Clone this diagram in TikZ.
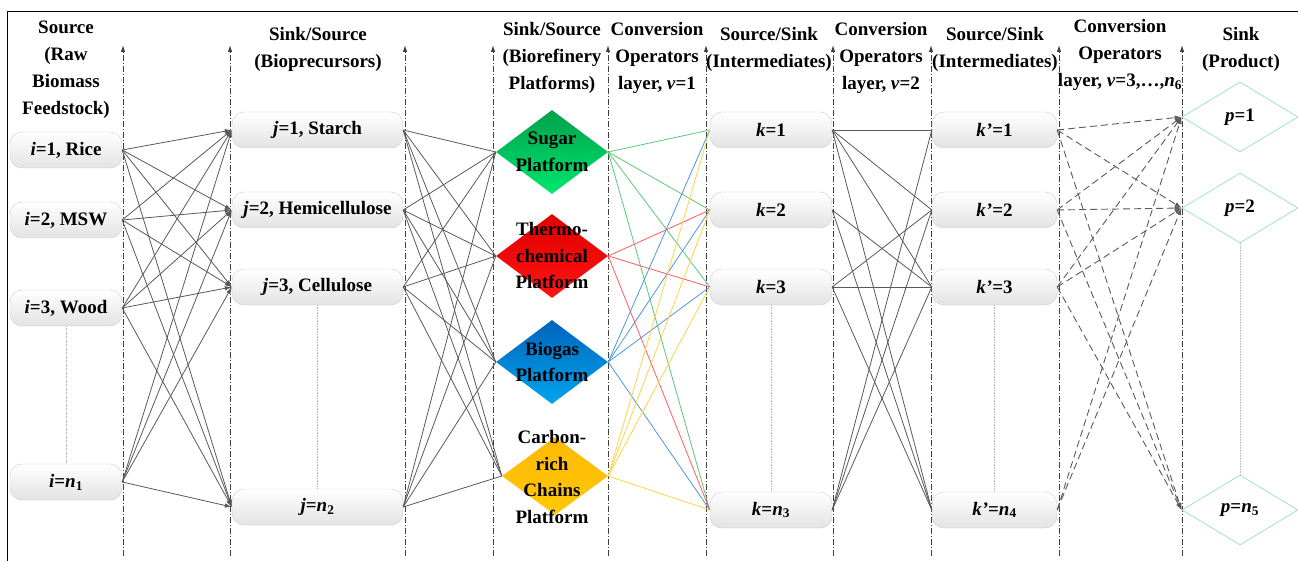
\documentclass[tikz,border=0pt]{standalone}
\usepackage{fontspec}
\setmainfont{Liberation Serif}
\usetikzlibrary{shapes.geometric,arrows.meta}
\definecolor{sugA}{RGB}{0,160,75}
\definecolor{sugB}{RGB}{0,230,110}
\definecolor{thmA}{RGB}{225,0,0}
\definecolor{thmB}{RGB}{255,20,20}
\definecolor{bioA}{RGB}{0,100,190}
\definecolor{bioB}{RGB}{0,165,235}
\definecolor{crbA}{RGB}{255,185,0}
\definecolor{crbB}{RGB}{255,200,10}
\definecolor{mintc}{RGB}{160,228,200}
\definecolor{lgreen}{RGB}{90,200,120}
\definecolor{lred}{RGB}{255,90,90}
\definecolor{lblue}{RGB}{80,150,220}
\definecolor{lyellow}{RGB}{255,210,70}
\begin{document}
\begin{tikzpicture}[x=1pt,y=-1pt,
  hdr/.style={font=\bfseries\fontsize{19}{27}\selectfont, align=center, inner sep=0pt},
  rbox/.style={rounded corners=12pt, draw=gray!40, top color=white, bottom color=gray!22,
    minimum height=36pt, inner sep=0pt, font=\bfseries\fontsize{19}{22}\selectfont},
  plat/.style={diamond, inner sep=0pt, minimum width=112pt, minimum height=84pt},
  ptext/.style={font=\bfseries\fontsize{19}{26.5}\selectfont, align=center, inner sep=0pt},
  prod/.style={diamond, draw=mintc, fill=white, inner sep=0pt, minimum width=116pt,
    minimum height=70pt, line width=0.8pt},
  vaxis/.style={draw=black!75, line width=0.9pt, dash pattern=on 6pt off 2pt on 1pt off 2pt,
    -{Latex[length=7pt,width=4.5pt]}},
  link/.style={draw=black!65, line width=0.8pt},
  alink/.style={link, -{Latex[length=7pt,width=4.5pt]}},
  clink/.style={line width=0.8pt},
  dlink/.style={draw=black!65, line width=0.9pt, dash pattern=on 7pt off 4pt,
    -{Latex[length=7pt,width=4.5pt]}},
  vdot/.style={draw=gray!55, line width=0.6pt, densely dotted}]
\useasboundingbox (0,0) rectangle (1298,561);
% frame
\draw[line width=1pt] (7,561) -- (7,12) -- (1298,12);
% axes
\foreach \x in {123,230,405,493,608,706,833,931,1059,1182}
  \draw[vaxis] (\x,556) -- (\x,45);
% headers
\node[hdr] (h1) at (66,70) {Source\\(Raw\\Biomass\\Feedstock)};
\node[hdr] (h2) at (318,49) {Sink/Source\\(Bioprecursors)};
\node[hdr] (h3) at (552,58) {Sink/Source\\(Biorefinery\\Platforms)};
\node[hdr] (h4) at (657,58) {Conversion\\Operators\\layer, \textit{v}=1};
\node[hdr] (h5) at (769,49) {Source/Sink\\(Intermediates)};
\node[hdr] (h6) at (881,58) {Conversion\\Operators\\layer, \textit{v}=2};
\node[hdr] (h7) at (995,49) {Source/Sink\\(Intermediates)};
\node[hdr] (h8) at (1120,55) {Conversion\\Operators\\layer, \textit{v}=3,…,\textit{n}\textsubscript{6}};
\node[hdr] (h9) at (1241,49) {Sink\\(Product)};
% sources
\node[rbox, minimum width=112pt] (i1) at (66,150) {\textit{i}=1, Rice};
\node[rbox, minimum width=112pt] (i2) at (66,220) {\textit{i}=2, MSW};
\node[rbox, minimum width=112pt] (i3) at (66,308) {\textit{i}=3, Wood};
\node[rbox, minimum width=112pt] (in) at (66,482) {\textit{i}=\textit{n}\textsubscript{1}};
% bioprecursors
\node[rbox, minimum width=171pt] (j1) at (317.5,130) {\textit{j}=1, Starch};
\node[rbox, minimum width=171pt] (j2) at (317.5,210) {\textit{j}=2, Hemicellulose};
\node[rbox, minimum width=171pt] (j3) at (317.5,287) {\textit{j}=3, Cellulose};
\node[rbox, minimum width=171pt] (jn) at (317.5,507) {\textit{j}=\textit{n}\textsubscript{2}};
% platforms
\node[plat, top color=sugA, bottom color=sugB] (sug) at (552,152) {};
\node[plat, top color=thmA, bottom color=thmB] (thm) at (552,256) {};
\node[plat, top color=bioA, bottom color=bioB] (bio) at (552,362) {};
\node[plat, top color=crbA, bottom color=crbB, minimum width=106pt, minimum height=78pt] (crb) at (555,476) {};
\node[ptext] (tsug) at (sug.center) {Sugar\\Platform};
\node[ptext] (tthm) at (thm.center) {Thermo-\\chemical\\Platform};
\node[ptext] (tbio) at (bio.center) {Biogas\\Platform};
\node[ptext] (tcrb) at (552,477) {Carbon-\\rich\\Chains\\Platform};
% intermediates k
\node[rbox, minimum width=122pt] (k1) at (771,130) {\textit{k}=1};
\node[rbox, minimum width=122pt] (k2) at (771,210) {\textit{k}=2};
\node[rbox, minimum width=122pt] (k3) at (771,287) {\textit{k}=3};
\node[rbox, minimum width=122pt] (kn) at (771,510) {\textit{k}=\textit{n}\textsubscript{3}};
% intermediates k'
\node[rbox, minimum width=125pt] (q1) at (994.5,130) {\textit{k’}=1};
\node[rbox, minimum width=125pt] (q2) at (994.5,210) {\textit{k’}=2};
\node[rbox, minimum width=125pt] (q3) at (994.5,287) {\textit{k’}=3};
\node[rbox, minimum width=125pt] (qn) at (994.5,510) {\textit{k’}=\textit{n}\textsubscript{4}};
% products
\node[prod, label={[font=\bfseries\fontsize{19}{22}\selectfont]center:\textit{p}=1}] (p1) at (1240,117) {};
\node[prod, label={[font=\bfseries\fontsize{19}{22}\selectfont]center:\textit{p}=2}] (p2) at (1240,208) {};
\node[prod, label={[font=\bfseries\fontsize{19}{22}\selectfont]center:\textit{p}=\textit{n}\textsubscript{5}}] (pn) at (1240,510) {};
% dotted continuation
\draw[vdot] (i3.south) -- (in.north);
\draw[vdot] (j3.south) -- (jn.north);
\draw[vdot] (k3.south) -- (kn.north);
\draw[vdot] (q3.south) -- (qn.north);
\draw[vdot] (p2.south) -- (pn.north);
% sources -> bioprecursors
\foreach \a in {i1,i2,i3,in}
  \foreach \b in {j1,j2,j3,jn}
    \draw[alink] (\a.east) -- (\b.west);
% bioprecursors -> platforms
\foreach \a in {j1,j2,j3,jn}
  \foreach \b in {sug,thm,bio,crb}
    \draw[link] (\a.east) -- (\b.west);
% platforms -> intermediates
\foreach \b in {k1,k2,k3,kn} \draw[clink, lgreen] (sug.east) -- (\b.west);
\foreach \b in {k2,k3,kn} \draw[clink, lred] (thm.east) -- (\b.west);
\foreach \b in {k1,k2,k3,kn} \draw[clink, lblue] (bio.east) -- (\b.west);
\foreach \b in {k1,k2,k3,kn} \draw[clink, lyellow] (crb.east) -- (\b.west);
% k -> k'
\foreach \b in {q1,q2,q3,qn} \draw[link] (k1.east) -- (\b.west);
\foreach \b in {q3,qn} \draw[link] (k2.east) -- (\b.west);
\foreach \b in {q2,q3,qn} \draw[link] (k3.east) -- (\b.west);
\foreach \b in {q1,q2,q3} \draw[link] (kn.east) -- (\b.west);
% k' -> products
\foreach \a in {q1,q2,q3}
  \foreach \b in {p1,p2,pn}
    \draw[dlink] (\a.east) -- (\b.west);
\foreach \b in {p1,p2} \draw[dlink] (qn.east) -- (\b.west);
\end{tikzpicture}
\end{document}
